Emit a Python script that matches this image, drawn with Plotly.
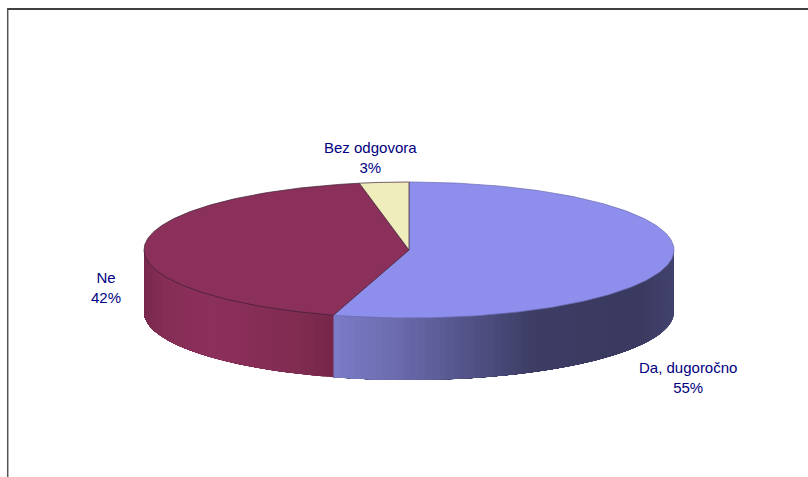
import numpy as np
import plotly.graph_objects as go

# Data
categories = ["Da, dugoročno", "Bez odgovora", "Ne"]
values = [54.6, 3.0, 42.4]
# drawing order: clockwise from 12 o'clock: Da, Ne, Bez odgovora
order = [0, 2, 1]

top_colors = {"Da, dugoročno": "#8E8EEC", "Ne": "#8B2F5B", "Bez odgovora": "#EFEDBC"}
label_pos = {"Bez odgovora": (370.5, 157.5), "Ne": (106, 287), "Da, dugoročno": (688, 377.5)}

CX, CY, RX, RY, DEPTH = 409, 250, 265, 68, 62
TEXT = "#000080"
EDGE = "#3a2030"


def ex(t):
    return CX + RX * np.sin(t)


def ey(t):
    return CY - RY * np.cos(t)


def mix_stops(x, xs, cols):
    rgb = [np.interp(x, xs, [c[i] for c in cols]) for i in range(3)]
    return "rgb(%d,%d,%d)" % tuple(int(round(v)) for v in rgb)


blue_xs = [333, 400, 470, 535, 640, 674]
blue_cols = [(124, 124, 200), (106, 106, 172), (82, 82, 136), (60, 60, 100), (58, 58, 96), (66, 66, 110)]
red_xs = [144, 165, 210, 290, 333]
red_cols = [(120, 41, 78), (134, 46, 86), (140, 48, 92), (130, 44, 82), (118, 40, 74)]
side_grad = {"Da, dugoročno": (blue_xs, blue_cols), "Ne": (red_xs, red_cols)}

fig = go.Figure()

total = sum(values)
start = 0.0
spans = {}
for i in order:
    end = start + values[i] / total * 2 * np.pi
    spans[categories[i]] = (start, end)
    start = end

# Side walls: each strip runs from its start to the far end, later strips paint over
for name, (a, b) in spans.items():
    lo, hi = max(a, np.pi / 2), min(b, 3 * np.pi / 2)
    if hi <= lo or name not in side_grad:
        continue
    xs, cols = side_grad[name]
    edges = np.linspace(lo, hi, 70)
    for t0, t1 in zip(edges[:-1], edges[1:]):
        tt = np.linspace(t0, hi, 40)
        px = np.concatenate([ex(tt), ex(tt[::-1])])
        py = np.concatenate([ey(tt) - 1, ey(tt[::-1]) + DEPTH])
        c = mix_stops(ex((t0 + t1) / 2), xs, cols)
        fig.add_trace(go.Scatter(x=px, y=py, mode="lines", fill="toself", fillcolor=c,
                                 line=dict(width=0), hoverinfo="skip", showlegend=False))

# Top faces
for name, (a, b) in spans.items():
    tt = np.linspace(a, b, 200)
    px = np.concatenate([[CX], ex(tt), [CX]])
    py = np.concatenate([[CY], ey(tt), [CY]])
    fig.add_trace(go.Scatter(x=px, y=py, mode="lines", fill="toself", fillcolor=top_colors[name],
                             line=dict(width=0.7, color=EDGE if name != "Da, dugoročno" else "#6a6ab0"),
                             hoverinfo="skip", showlegend=False))

# Labels
annotations = []
for name, v in zip(categories, values):
    lx, ly = label_pos[name]
    annotations.append(dict(x=lx, y=ly, xref="x", yref="y", text=f"{name}<br>{round(v)}%", showarrow=False,
                            font=dict(family="Liberation Sans, Arial", size=15, color=TEXT), align="center"))

fig.update_layout(
    width=808, height=477, margin=dict(l=0, r=0, t=0, b=0),
    paper_bgcolor="white", plot_bgcolor="white", showlegend=False,
    xaxis=dict(range=[0, 808], visible=False, fixedrange=True),
    yaxis=dict(range=[477, 0], visible=False, fixedrange=True),
    annotations=annotations,
    shapes=[
        dict(type="line", xref="x", yref="y", x0=7, x1=808, y0=9, y1=9, line=dict(color="#000000", width=1.5)),
        dict(type="line", xref="x", yref="y", x0=7.7, x1=7.7, y0=9, y1=477, line=dict(color="#555555", width=1.5)),
    ],
)
fig.write_html("out.html", config={"displayModeBar": False},
               post_script="document.body.style.margin='0';document.documentElement.style.overflow='hidden';")
